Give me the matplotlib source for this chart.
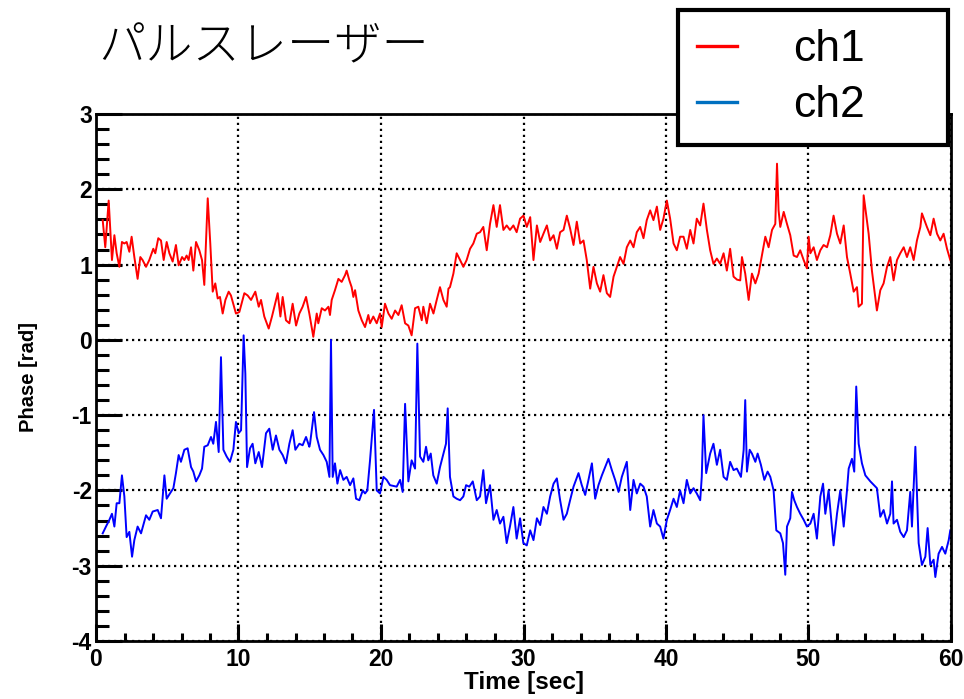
import matplotlib
matplotlib.use("Agg")
import matplotlib.pyplot as plt
from matplotlib.lines import Line2D
from matplotlib.ticker import MultipleLocator

plt.rcParams["axes.unicode_minus"] = False

# ch1 (red) phase readings
t_ch1 = [0.47, 0.65, 0.89, 1.12, 1.29, 1.45, 1.64, 1.82, 1.99, 2.15, 2.34, 2.50, 2.69, 2.92,
         3.11, 3.27, 3.51, 3.74, 4.02, 4.16, 4.37, 4.56, 4.75, 4.96, 5.15, 5.38, 5.61, 5.80,
         6.04, 6.20, 6.36, 6.50, 6.67, 6.83, 7.02, 7.25, 7.44, 7.60, 7.84, 8.02, 8.19, 8.37,
         8.54, 8.70, 8.89, 9.08, 9.31, 9.47, 9.82, 10.06, 10.41, 10.64, 10.88, 11.18, 11.42,
         11.58, 11.81, 12.12, 12.35, 12.75, 12.94, 13.10, 13.33, 13.57, 13.80, 14.04, 14.27,
         14.50, 14.74, 14.97,
         15.25, 15.49, 15.60, 15.84, 16.07, 16.31, 16.42, 16.54, 16.77, 17.01, 17.24, 17.48,
         17.59, 17.78, 17.94, 18.06, 18.18, 18.41, 18.65, 18.88, 19.11, 19.23, 19.46, 19.70,
         19.93, 20.05, 20.28, 20.52, 20.75, 20.99, 21.22, 21.45, 21.69, 21.92, 22.15, 22.39,
         22.62, 22.86, 22.97, 23.21, 23.44, 23.68, 23.91, 24.14, 24.38, 24.61, 24.73, 24.84,
         25.08, 25.31, 25.55, 25.78, 26.01, 26.25, 26.48, 26.72, 26.95, 27.18, 27.42, 27.65,
         27.89, 28.12, 28.35, 28.59, 28.82, 29.05, 29.29, 29.52, 29.76,
         30.00, 30.23, 30.47, 30.70, 30.94, 31.17, 31.40, 31.64, 31.87, 32.11, 32.34, 32.57,
         32.81, 33.04, 33.27, 33.51, 33.74, 33.98, 34.21, 34.44, 34.68, 34.91, 35.15, 35.38,
         35.61, 35.85, 36.08, 36.32, 36.55, 36.78, 37.02, 37.25, 37.49, 37.72, 37.95, 38.19,
         38.42, 38.65, 38.89, 39.12, 39.36, 39.59, 39.82, 40.06, 40.29, 40.53, 40.76, 40.99,
         41.23, 41.46, 41.70, 41.93, 42.16, 42.40, 42.63, 42.87, 43.10, 43.33, 43.57, 43.80,
         44.04, 44.27, 44.50, 44.74,
         44.98, 45.21, 45.33, 45.56, 45.80, 46.03, 46.27, 46.50, 46.73, 46.97, 47.20, 47.44,
         47.67, 47.79, 47.90, 48.02, 48.26, 48.49, 48.72, 48.96, 49.19, 49.42, 49.66, 49.89,
         50.01, 50.13, 50.36, 50.59, 50.83, 51.06, 51.30, 51.53, 51.76, 52.00, 52.23, 52.47,
         52.70, 52.93, 53.17, 53.40, 53.52, 53.75, 53.87, 54.22, 54.45, 54.80, 55.04, 55.27,
         55.51, 55.74, 55.97, 56.21, 56.44, 56.68, 56.91, 57.14, 57.38, 57.61, 57.85, 57.96,
         58.31, 58.55, 58.78, 59.02, 59.25, 59.48, 59.72, 59.95]
ph_ch1 = [1.59, 1.23, 1.85, 1.06, 1.39, 1.15, 0.97, 1.30, 1.28, 1.30, 1.17, 1.37, 1.10, 0.81,
          1.10, 1.06, 0.97, 1.06, 1.21, 1.15, 1.35, 1.32, 1.06, 1.30, 1.15, 1.04, 1.26, 0.99,
          1.10, 1.06, 1.12, 1.06, 1.23, 0.92, 1.30, 1.19, 1.06, 0.73, 1.88, 1.28, 0.64, 0.75,
          0.55, 0.57, 0.35, 0.53, 0.64, 0.59, 0.35, 0.37, 0.62, 0.59, 0.53, 0.64, 0.44,
          0.53, 0.31, 0.15, 0.31, 0.62, 0.31, 0.57, 0.26, 0.22, 0.48, 0.19, 0.35,
          0.44, 0.57, 0.35,
          0.04, 0.35, 0.22, 0.42, 0.39, 0.44, 0.33, 0.53, 0.66, 0.81, 0.77, 0.86,
          0.92, 0.79, 0.70, 0.57, 0.66, 0.39, 0.26, 0.17, 0.33, 0.22, 0.31, 0.22,
          0.35, 0.17, 0.48, 0.35, 0.28, 0.39, 0.33, 0.46, 0.22, 0.19, 0.06, 0.42,
          0.44, 0.26, 0.44, 0.22, 0.48, 0.35, 0.53, 0.70, 0.53, 0.44, 0.68, 0.70,
          0.88, 1.15, 1.06, 0.97, 1.06, 1.21, 1.28, 1.41, 1.43, 1.50, 1.19, 1.54,
          1.79, 1.50, 1.79, 1.46, 1.52, 1.46, 1.52, 1.43, 1.61,
          1.65, 1.50, 1.63, 1.06, 1.52, 1.30, 1.41, 1.52, 1.32, 1.39, 1.21, 1.43,
          1.46, 1.65, 1.48, 1.26, 1.57, 1.28, 1.32, 1.06, 0.68, 0.97, 0.75, 0.64,
          0.86, 0.62, 0.57, 0.84, 0.97, 1.10, 1.01, 1.23, 1.32, 1.23, 1.43, 1.50,
          1.35, 1.59, 1.72, 1.59, 1.77, 1.46, 1.61, 1.85, 1.61, 1.28, 1.19, 1.37,
          1.37, 1.21, 1.46, 1.28, 1.61, 1.52, 1.81, 1.46, 1.19, 1.01, 1.08, 1.01,
          1.15, 0.92, 1.21, 0.84,
          0.80, 0.79, 1.10, 0.88, 0.53, 0.88, 0.75, 0.88, 1.12, 1.37, 1.23, 1.46,
          1.54, 2.34, 1.72, 1.50, 1.70, 1.54, 1.39, 1.12, 1.10, 1.19, 1.06, 0.95,
          1.37, 1.15, 1.23, 1.06, 1.19, 1.26, 1.23, 1.39, 1.65, 1.41, 1.28, 1.52,
          1.10, 0.88, 0.64, 0.70, 0.44, 0.48, 1.92, 1.41, 0.92, 0.39, 0.66, 0.75,
          0.97, 1.10, 0.79, 1.06, 1.15, 1.23, 1.10, 1.23, 1.06, 1.32, 1.50, 1.68,
          1.50, 1.39, 1.61, 1.41, 1.32, 1.41, 1.21, 1.06]

# ch2 (blue) phase readings
t_ch2 = [0.47, 0.70, 0.94, 1.12, 1.29, 1.45, 1.64, 1.82, 1.99, 2.15, 2.34, 2.53, 2.69, 2.92,
         3.16, 3.51, 3.74, 3.98, 4.33, 4.56, 4.80, 4.96, 5.19, 5.43, 5.61, 5.80, 5.96, 6.20,
         6.43, 6.67, 6.83, 7.02, 7.25, 7.44, 7.60, 7.84, 8.07, 8.23, 8.42, 8.61, 8.77, 8.94,
         9.17, 9.40, 9.64, 9.82, 10.01, 10.18, 10.36, 10.48, 10.60, 10.81, 10.99, 11.18, 11.42,
         11.65, 11.93, 12.16, 12.40, 12.63, 12.87, 13.10, 13.33, 13.57, 13.80, 13.99, 14.27,
         14.50, 14.74, 14.97,
         15.02, 15.30, 15.49, 15.72, 15.96, 16.19, 16.38, 16.49, 16.61, 16.77, 16.94, 17.13,
         17.36, 17.59, 17.83, 18.06, 18.25, 18.48, 18.72, 18.88, 19.04, 19.23, 19.51, 19.70,
         19.93, 20.17, 20.40, 20.63, 21.10, 21.34, 21.52, 21.69, 21.92, 22.15, 22.39, 22.55,
         22.74, 22.97, 23.16, 23.32, 23.49, 23.67, 23.91, 24.14, 24.38, 24.56, 24.68, 24.84,
         25.08, 25.31, 25.55, 25.78, 25.97, 26.20, 26.44, 26.72, 26.95, 27.18, 27.37, 27.65,
         27.89, 28.12, 28.35, 28.59, 28.82, 29.05, 29.29, 29.52, 29.76, 29.99,
         30.23, 30.47, 30.70, 30.94, 31.17, 31.40, 31.64, 31.87, 32.11, 32.34, 32.57, 32.81,
         33.04, 33.27, 33.51, 33.86, 34.09, 34.33, 34.56, 34.80, 35.03, 35.26, 35.50, 35.73,
         35.96, 36.20, 36.43, 36.67, 36.90, 37.25, 37.49, 37.72, 37.95, 38.19, 38.42, 38.65,
         38.89, 39.12, 39.36, 39.59, 39.82, 40.06, 40.29, 40.53, 40.76, 40.99, 41.23, 41.46,
         41.70, 41.93, 42.16, 42.40, 42.51, 42.63, 42.82, 43.10, 43.33, 43.57, 43.80, 44.04,
         44.27, 44.50, 44.74, 44.97,
         45.26, 45.45, 45.56, 45.68, 45.87, 46.03, 46.27, 46.43, 46.66, 46.90, 47.13, 47.32,
         47.55, 47.74, 48.02, 48.21, 48.37, 48.49, 48.72, 48.84, 49.00, 49.19, 49.42, 49.66,
         49.89, 50.13, 50.36, 50.59, 50.83, 51.02, 51.18, 51.41, 51.76, 52.00, 52.23, 52.47,
         52.70, 52.82, 53.05, 53.21, 53.35, 53.52, 53.75, 53.99, 54.34, 54.80, 55.04, 55.27,
         55.51, 55.74, 55.86, 55.97, 56.21, 56.44, 56.68, 56.91, 57.14, 57.26, 57.50, 57.73,
         57.96, 58.20, 58.36, 58.55, 58.78, 58.90, 59.13, 59.37, 59.60, 59.84, 59.95]
ph_ch2 = [-2.57, -2.48, -2.39, -2.31, -2.48, -2.17, -2.17, -1.80, -2.08, -2.62, -2.55, -2.88,
          -2.66, -2.48, -2.57, -2.33, -2.39, -2.28, -2.26, -2.37, -1.80, -2.11, -2.04, -1.97,
          -1.77, -1.53, -1.62, -1.46, -1.44, -1.69, -1.75, -1.88, -1.80, -1.71, -1.42, -1.40,
          -1.29, -1.38, -1.09, -1.49, -0.23, -1.46, -1.55, -1.62, -1.46, -1.09, -1.24, -1.20,
          0.06, -0.45, -1.69, -1.44, -1.38, -1.64, -1.49, -1.69, -1.24, -1.18, -1.46, -1.27,
          -1.46, -1.53, -1.64, -1.38, -1.20, -1.46, -1.38, -1.40, -1.29, -1.42,
          -1.38, -0.96, -1.29, -1.46, -1.53, -1.62, -1.82, 0.00, -1.82, -1.64, -1.91, -1.73,
          -1.86, -1.82, -1.93, -1.84, -2.11, -2.13, -2.00, -2.04, -2.00, -1.60, -0.93, -2.00,
          -2.04, -1.82, -1.86, -1.93, -1.95, -1.86, -2.02, -0.85, -1.88, -1.60, -1.71, -0.05,
          -1.55, -1.62, -1.42, -1.60, -1.51, -1.80, -1.91, -1.69, -1.51, -1.38, -0.91, -1.82,
          -2.08, -2.11, -2.13, -2.08, -1.93, -1.95, -1.88, -2.13, -2.08, -1.73, -2.17, -1.93,
          -2.39, -2.26, -2.44, -2.35, -2.70, -2.48, -2.22, -2.64, -2.37, -2.70,
          -2.73, -2.53, -2.66, -2.37, -2.46, -2.22, -2.31, -2.08, -1.91, -1.84, -2.13, -2.39,
          -2.31, -2.13, -1.95, -1.77, -1.93, -2.06, -1.86, -1.64, -2.11, -1.93, -1.80, -1.69,
          -1.58, -1.73, -1.86, -2.02, -1.82, -1.62, -2.26, -1.86, -2.04, -1.91, -1.95, -2.08,
          -2.48, -2.26, -2.44, -2.48, -2.64, -2.39, -2.26, -2.11, -2.22, -2.00, -2.17, -1.86,
          -2.04, -1.97, -2.04, -2.13, -1.82, -1.00, -1.77, -1.51, -1.38, -1.66, -1.46, -1.82,
          -1.86, -1.62, -1.73, -1.71,
          -1.82, -1.46, -0.80, -1.75, -1.46, -1.51, -1.62, -1.51, -1.66, -1.86, -1.75, -1.82,
          -2.00, -2.53, -2.57, -2.70, -3.12, -2.48, -2.37, -2.02, -2.13, -2.22, -2.31, -2.39,
          -2.48, -2.44, -2.31, -2.64, -2.08, -1.91, -2.31, -2.00, -2.73, -2.31, -2.00, -2.48,
          -2.00, -1.71, -1.58, -1.75, -0.62, -1.38, -1.64, -1.80, -1.88, -1.97, -2.35, -2.26,
          -2.44, -2.31, -1.88, -2.44, -2.39, -2.55, -2.62, -2.53, -2.02, -2.48, -1.42, -2.70,
          -2.99, -2.88, -2.50, -2.99, -2.92, -3.15, -2.84, -2.75, -2.84, -2.66, -2.53]

title_text = "パルスレーザー"
legend_labels = ["ch1", "ch2"]

fig = plt.figure(figsize=(9.64, 6.99), dpi=100)
ax = fig.add_axes([96 / 964, 58 / 699, 855 / 964, 527 / 699])

ax.plot(t_ch1, ph_ch1, color="#ff0000", lw=1.4)
ax.plot(t_ch2, ph_ch2, color="#0000ff", lw=1.4)

ax.set_xlim(0, 60)
ax.set_ylim(-4, 3)
ax.xaxis.set_major_locator(MultipleLocator(10))
ax.xaxis.set_minor_locator(MultipleLocator(2))
ax.yaxis.set_major_locator(MultipleLocator(1))
ax.yaxis.set_minor_locator(MultipleLocator(0.2))

ax.grid(True, which="major", color="black", linestyle=(0, (1, 1.7)), lw=1.6)
ax.tick_params(axis="y", which="major", direction="in", length=19, width=2.2, pad=3,
               left=True, right=False)
ax.tick_params(axis="y", which="minor", direction="in", length=9.5, width=2.2,
               left=True, right=False)
ax.tick_params(axis="x", which="major", direction="in", length=12, width=2.2, pad=5,
               bottom=True, top=False)
ax.tick_params(axis="x", which="minor", direction="in", length=6, width=2.2,
               bottom=True, top=False)
for sp in ax.spines.values():
    sp.set_linewidth(2)
    sp.set_color("black")

for lab in ax.get_xticklabels() + ax.get_yticklabels():
    lab.set_fontfamily("Liberation Sans")
    lab.set_fontweight("bold")
    lab.set_fontsize(16.5)

ax.set_xlabel("Time [sec]", family="Liberation Sans", weight="bold", fontsize=17.5, labelpad=0)
ax.set_ylabel("Phase [rad]", family="Liberation Sans", weight="bold", fontsize=14.5, labelpad=24)

fig.text(98 / 964, 1 - 47 / 699, title_text, family=["Noto Sans CJK JP", "DejaVu Sans"],
         fontsize=34, va="center", ha="left", weight="light")

handles = [Line2D([], [], color="#ff0000", lw=2.4), Line2D([], [], color="#0070c0", lw=2.4)]
leg = fig.legend(handles, legend_labels, loc="upper left",
                 bbox_to_anchor=(678 / 964, (699 - 145) / 699, 270 / 964, 135 / 699),
                 mode="expand", borderaxespad=0,
                 prop={"family": "Liberation Sans", "size": 32},
                 handlelength=0.9, handletextpad=1.25, borderpad=0.43, labelspacing=0.34,
                 fancybox=False, framealpha=1, edgecolor="black")
leg.get_frame().set_linewidth(3)

fig.savefig("out.png", dpi=100)
